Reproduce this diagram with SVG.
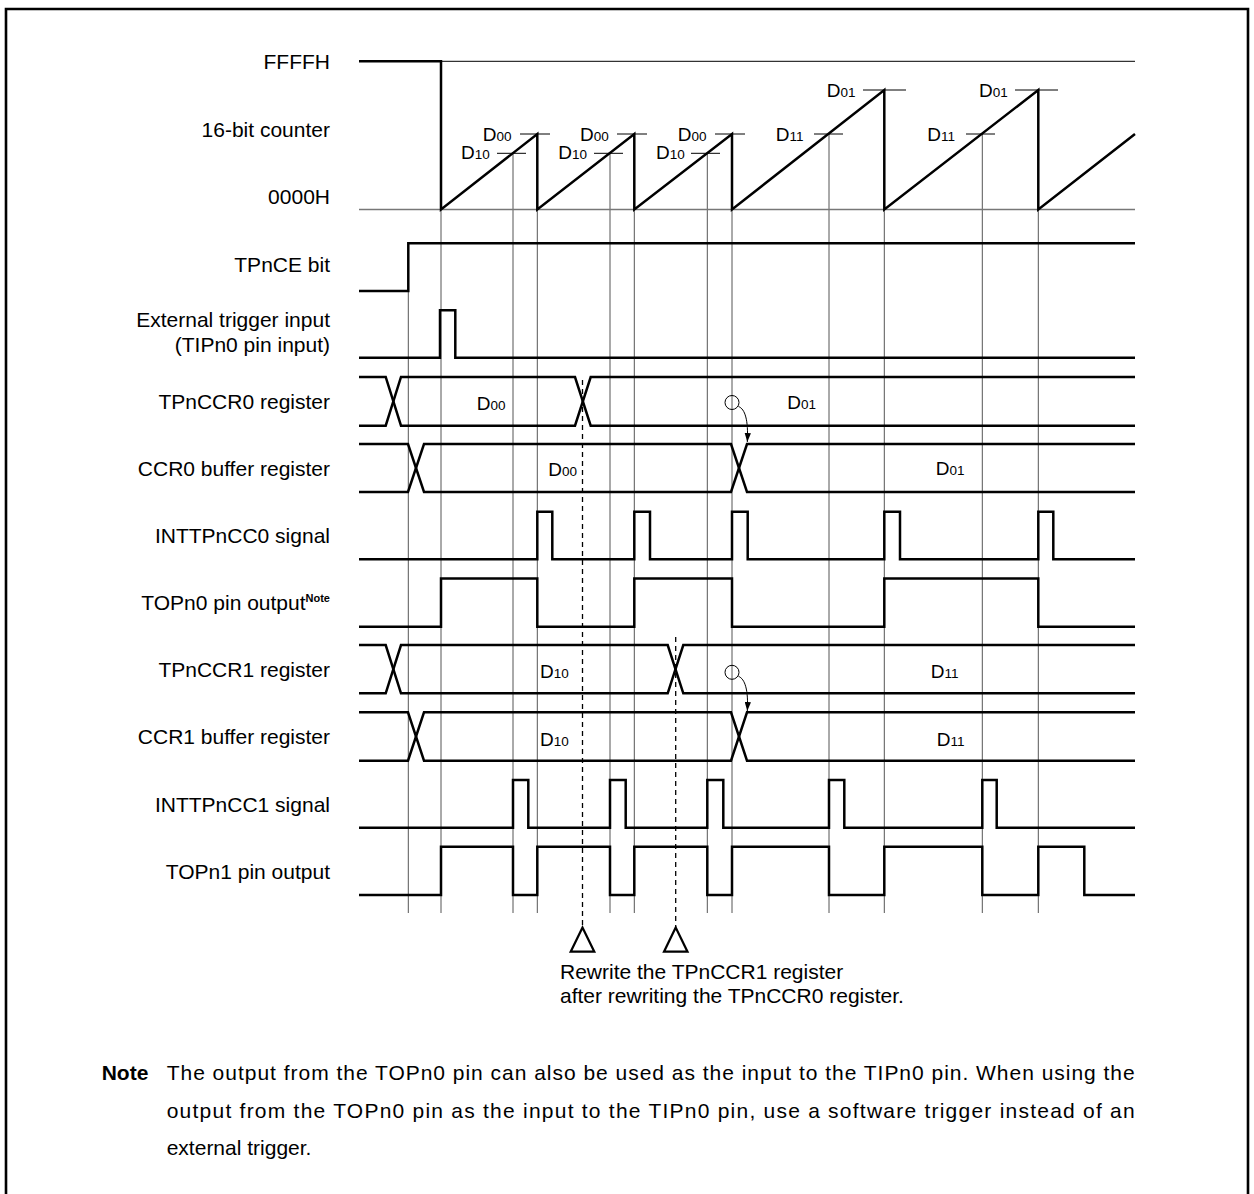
<svg xmlns="http://www.w3.org/2000/svg" width="1254" height="1194" viewBox="0 0 1254 1194">
<style>
  text { font-family: "Liberation Sans", Arial, Helvetica, sans-serif; fill: #000; }
  .lbl { font-size: 21px; text-anchor: end; }
  .txt { font-size: 21px; }
  .dD { font-size: 19px; }
  .dS { font-size: 13.5px; }
  .sig { fill: none; stroke: #000; stroke-width: 2.5; stroke-linejoin: miter; }
  .thin { fill: none; stroke: #000; stroke-width: 1; }
  .guide { fill: none; stroke: #555; stroke-width: 1; }
  .zero { fill: none; stroke: #777; stroke-width: 1.6; }
  .dash { fill: none; stroke: #000; stroke-width: 1.3; stroke-dasharray: 5 4; }
  .tri { fill: #fff; stroke: #000; stroke-width: 2.2; stroke-linejoin: miter; }
</style>
<defs>
  <marker id="ah" viewBox="0 0 10 7" refX="10" refY="3.5" markerWidth="9" markerHeight="6.5" markerUnits="userSpaceOnUse" orient="auto">
    <path d="M0,0 L10,3.5 L0,7 z" fill="#000"/>
  </marker>
</defs>
<rect width="1254" height="1194" fill="#fff"/>
<path d="M6,1194 V9 H1248 V1194" fill="none" stroke="#000" stroke-width="2.6"/>

<g id="connectors">
  <g id="guides">
    <line class="guide" x1="408.3" y1="243" x2="408.3" y2="913"/>
    <line class="guide" x1="441" y1="209.5" x2="441" y2="913"/>
    <line class="guide" x1="513" y1="153" x2="513" y2="913"/>
    <line class="guide" x1="537.3" y1="209.5" x2="537.3" y2="913"/>
    <line class="guide" x1="610" y1="153" x2="610" y2="913"/>
    <line class="guide" x1="634.3" y1="209.5" x2="634.3" y2="913"/>
    <line class="guide" x1="707.3" y1="153" x2="707.3" y2="913"/>
    <line class="guide" x1="732" y1="209.5" x2="732" y2="913"/>
    <line class="guide" x1="829" y1="134" x2="829" y2="913"/>
    <line class="guide" x1="884.3" y1="209.5" x2="884.3" y2="913"/>
    <line class="guide" x1="982.3" y1="134" x2="982.3" y2="913"/>
    <line class="guide" x1="1038.3" y1="209.5" x2="1038.3" y2="913"/>
  </g>
  <line class="dash" x1="582.5" y1="380" x2="582.5" y2="927"/>
  <line class="dash" x1="675.7" y1="637" x2="675.7" y2="927"/>
  <circle cx="732" cy="402.5" r="7" class="thin"/>
  <path class="thin" d="M738.5,406.5 C745,409 748.5,420 747.3,442" marker-end="url(#ah)"/>
  <circle cx="732" cy="672.3" r="7" class="thin"/>
  <path class="thin" d="M738.5,676.3 C745,679 748.5,690 747.3,711" marker-end="url(#ah)"/>
  <polygon class="tri" points="582.5,927.5 570.7,951.7 594.3,951.7"/>
  <polygon class="tri" points="675.7,927.5 664,951.7 687.5,951.7"/>
</g>

<g id="counter">
  <text class="lbl" x="330" y="68.5">FFFFH</text>
  <text class="lbl" x="330" y="136.5">16-bit counter</text>
  <text class="lbl" x="330" y="204">0000H</text>
  <line class="zero" x1="359" y1="209.5" x2="1135" y2="209.5"/>
  <line class="thin" x1="441" y1="61.3" x2="1135" y2="61.3"/>
  <path class="sig" d="M359,61.3 H441 V209.5 L537.3,134 V209.5 L634.3,134 V209.5 L732,134 V209.5 L884.3,90 V209.5 L1038.3,90 V209.5 L1135,134"/>
  <g class="thin">
    <line x1="520" y1="134" x2="550" y2="134"/>
    <line x1="497" y1="153.3" x2="526" y2="153.3"/>
    <line x1="617" y1="134" x2="647" y2="134"/>
    <line x1="594" y1="153.3" x2="623" y2="153.3"/>
    <line x1="715" y1="134" x2="745" y2="134"/>
    <line x1="691" y1="153.3" x2="720" y2="153.3"/>
    <line x1="863" y1="90" x2="906" y2="90"/>
    <line x1="814" y1="134" x2="843" y2="134"/>
    <line x1="1015" y1="90" x2="1058" y2="90"/>
    <line x1="966" y1="134" x2="995" y2="134"/>
  </g>
  <text x="482.7" y="140.7"><tspan class="dD">D</tspan><tspan class="dS">00</tspan></text>
  <text x="461" y="159"><tspan class="dD">D</tspan><tspan class="dS">10</tspan></text>
  <text x="580" y="140.7"><tspan class="dD">D</tspan><tspan class="dS">00</tspan></text>
  <text x="558.3" y="159"><tspan class="dD">D</tspan><tspan class="dS">10</tspan></text>
  <text x="677.7" y="140.7"><tspan class="dD">D</tspan><tspan class="dS">00</tspan></text>
  <text x="656" y="159"><tspan class="dD">D</tspan><tspan class="dS">10</tspan></text>
  <text x="826.7" y="97.3"><tspan class="dD">D</tspan><tspan class="dS">01</tspan></text>
  <text x="775.7" y="140.7"><tspan class="dD">D</tspan><tspan class="dS">11</tspan></text>
  <text x="979" y="97.3"><tspan class="dD">D</tspan><tspan class="dS">01</tspan></text>
  <text x="927.3" y="140.7"><tspan class="dD">D</tspan><tspan class="dS">11</tspan></text>
</g>

<g id="tpnce">
  <text class="lbl" x="330" y="272">TPnCE bit</text>
  <path class="sig" d="M359,291 H408.3 V243.3 H1135"/>
</g>

<g id="ext-trigger">
  <text class="lbl" x="330" y="326.7">External trigger input</text>
  <text class="lbl" x="330" y="351.7">(TIPn0 pin input)</text>
  <path class="sig" d="M359,357.7 H440 V310.3 H455.3 V357.7 H1135"/>
</g>

<g id="tpnccr0">
  <text class="lbl" x="330" y="409">TPnCCR0 register</text>
  <path class="sig" d="M359,377 H385.7 L401,425.7 H575 L590.7,377 H1135"/>
  <path class="sig" d="M359,425.7 H385.7 L401,377 H575 L590.7,425.7 H1135"/>
  <text x="476.7" y="410"><tspan class="dD">D</tspan><tspan class="dS">00</tspan></text>
  <text x="787.3" y="409.3"><tspan class="dD">D</tspan><tspan class="dS">01</tspan></text>
</g>

<g id="ccr0-buffer">
  <text class="lbl" x="330" y="475.5">CCR0 buffer register</text>
  <path class="sig" d="M359,444 H408 L424,492 H731 L747,444 H1135"/>
  <path class="sig" d="M359,492 H408 L424,444 H731 L747,492 H1135"/>
  <text x="548.3" y="475.7"><tspan class="dD">D</tspan><tspan class="dS">00</tspan></text>
  <text x="935.7" y="475"><tspan class="dD">D</tspan><tspan class="dS">01</tspan></text>
</g>

<g id="inttpncc0">
  <text class="lbl" x="330" y="543">INTTPnCC0 signal</text>
  <path class="sig" d="M359,559.3 H537.3 V511.7 H552.3 V559.3 H634.3 V511.7 H650 V559.3 H732 V511.7 H747.7 V559.3 H884.3 V511.7 H900 V559.3 H1038.3 V511.7 H1053.3 V559.3 H1135"/>
</g>

<g id="topn0">
  <text class="lbl" x="330" y="610">TOPn0 pin output<tspan font-size="11" font-weight="bold" dy="-8">Note</tspan></text>
  <path class="sig" d="M359,626.7 H441 V578.5 H537.3 V626.7 H634.3 V578.5 H732 V626.7 H884.3 V578.5 H1038.3 V626.7 H1135"/>
</g>

<g id="tpnccr1">
  <text class="lbl" x="330" y="676.5">TPnCCR1 register</text>
  <path class="sig" d="M359,645 H385.7 L401,693.3 H667.7 L683.3,645 H1135"/>
  <path class="sig" d="M359,693.3 H385.7 L401,645 H667.7 L683.3,693.3 H1135"/>
  <text x="540" y="678.3"><tspan class="dD">D</tspan><tspan class="dS">10</tspan></text>
  <text x="930.7" y="677.7"><tspan class="dD">D</tspan><tspan class="dS">11</tspan></text>
</g>

<g id="ccr1-buffer">
  <text class="lbl" x="330" y="744">CCR1 buffer register</text>
  <path class="sig" d="M359,712.3 H408 L424,760.7 H731 L747,712.3 H1135"/>
  <path class="sig" d="M359,760.7 H408 L424,712.3 H731 L747,760.7 H1135"/>
  <text x="540" y="746"><tspan class="dD">D</tspan><tspan class="dS">10</tspan></text>
  <text x="936.7" y="745.7"><tspan class="dD">D</tspan><tspan class="dS">11</tspan></text>
</g>

<g id="inttpncc1">
  <text class="lbl" x="330" y="811.5">INTTPnCC1 signal</text>
  <path class="sig" d="M359,827.7 H513 V780 H528.3 V827.7 H610 V780 H625.7 V827.7 H707.3 V780 H723.3 V827.7 H829 V780 H844.3 V827.7 H982.3 V780 H996.7 V827.7 H1135"/>
</g>

<g id="topn1">
  <text class="lbl" x="330" y="878.5">TOPn1 pin output</text>
  <path class="sig" d="M359,895 H441 V846.7 H513 V895 H537.3 V846.7 H610 V895 H634.3 V846.7 H707.3 V895 H732 V846.7 H829 V895 H884.3 V846.7 H982.3 V895 H1038.3 V846.7 H1084.3 V895 H1135"/>
</g>

<g id="rewrite-note">
  <text class="txt" x="560" y="978.5">Rewrite the TPnCCR1 register</text>
  <text class="txt" x="560" y="1002.5">after rewriting the TPnCCR0 register.</text>
</g>

<g id="footnote">
  <text class="txt" x="101.7" y="1080" font-weight="bold">Note</text>
  <text class="txt" x="166.7" y="1080" textLength="968" lengthAdjust="spacing">The output from the TOPn0 pin can also be used as the input to the TIPn0 pin. When using the</text>
  <text class="txt" x="166.7" y="1117.5" textLength="968" lengthAdjust="spacing">output from the TOPn0 pin as the input to the TIPn0 pin, use a software trigger instead of an</text>
  <text class="txt" x="166.7" y="1155">external trigger.</text>
</g>
</svg>
